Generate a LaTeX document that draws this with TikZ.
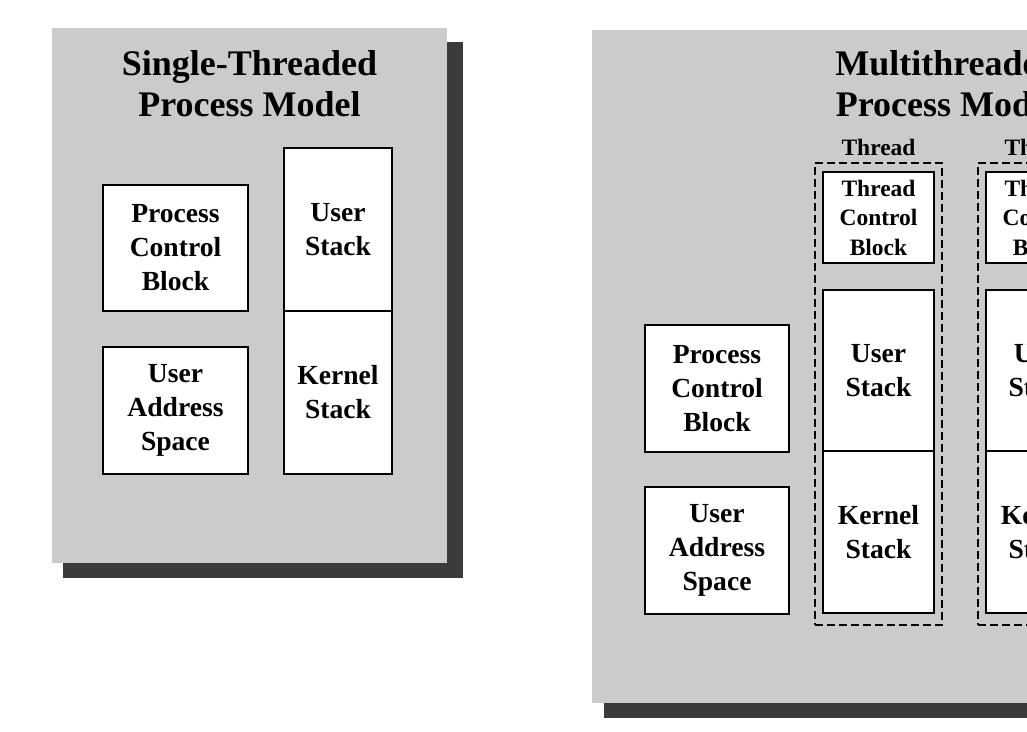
\documentclass[tikz,border=0pt]{standalone}
\usepackage{fontspec}
\setmainfont{Liberation Serif}
\definecolor{panelc}{HTML}{CBCBCB}
\definecolor{shadowc}{HTML}{3B3B3B}
\begin{document}
\begin{tikzpicture}[x=1pt,y=-1pt,
  title/.style={font=\bfseries\fontsize{36}{41}\selectfont, align=center, inner sep=0pt},
  box/.style={draw=black, line width=2pt, fill=white, align=center, inner sep=0pt, outer sep=0pt,
    font=\bfseries\fontsize{27.6}{34}\selectfont},
  smallbox/.style={box, font=\bfseries\fontsize{23.5}{29.5}\selectfont},
  threadbox/.style={draw=black, line width=2pt, dash pattern=on 8pt off 4pt, inner sep=0pt, outer sep=0pt},
  threadlabel/.style={font=\bfseries\fontsize{23.5}{28}\selectfont, inner sep=0pt}]
\useasboundingbox (0,0) rectangle (1027,731);
\clip (0,0) rectangle (1027,731);
\fill[white] (0,0) rectangle (1027,731);

% ---------- single-threaded panel ----------
\fill[shadowc] (63,42) rectangle (463,578);
\fill[panelc] (52,28) rectangle (447,563);
\node[title] (ttl1) at (249.5,84) {Single-Threaded\\Process Model};
\node[box, minimum width=145, minimum height=126] (pcb1) at (175.5,248) {Process\\Control\\Block};
\node[box, minimum width=145, minimum height=127] (uas1) at (175.5,410.5) {User\\Address\\Space};
\node[box, minimum width=108, minimum height=163] (us1) at (338,229.5) {User\\Stack};
\node[box, minimum width=108, minimum height=163] (ks1) at (338,392.5) {Kernel\\Stack};

% ---------- multithreaded panel ----------
\fill[shadowc] (604,45) rectangle (1100,718);
\fill[panelc] (592,30) rectangle (1100,703);
\node[title] (ttl2) at (947,84) {Multithreaded\\Process Model};
\node[box, minimum width=144, minimum height=127] (pcb2) at (717,388.5) {Process\\Control\\Block};
\node[box, minimum width=144, minimum height=127] (uas2) at (717,550.5) {User\\Address\\Space};

\foreach \i/\dx in {a/0, b/163} {
  \node[threadbox, minimum width=127, minimum height=462] (th\i) at (878.5+\dx,393.5) {};
  \node[threadlabel] (tl\i) at (878.5+\dx,147) {Thread};
  \node[smallbox, minimum width=111, minimum height=91] (tcb\i) at (878.5+\dx,217.5) {Thread\\Control\\Block};
  \node[box, minimum width=111, minimum height=161] (us\i) at (878.5+\dx,370.5) {User\\Stack};
  \node[box, minimum width=111, minimum height=162] (ks\i) at (878.5+\dx,532) {Kernel\\Stack};
}
\end{tikzpicture}
\end{document}
